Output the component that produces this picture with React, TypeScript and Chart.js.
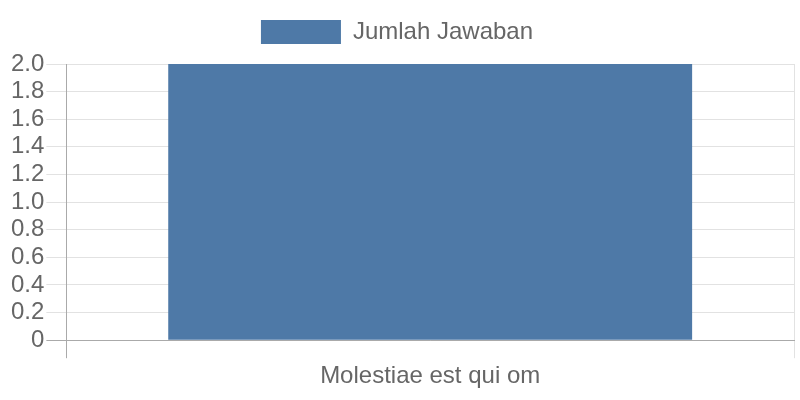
import React, { useEffect, useRef } from "react";
import { Chart, registerables } from "chart.js";

Chart.register(...registerables);

const categories: string[] = ["Molestiae est qui om"];
const seriesLabel = "Jumlah Jawaban";
const seriesValues: number[] = [2];

const legendSpacer = {
  id: "legendSpacer",
  beforeLayout(chart: any) {
    const lg = chart.legend;
    if (lg && !lg.__spaced) {
      const fit = lg.fit;
      lg.fit = function (this: any) {
        fit.call(this);
        this.height += 10;
      };
      lg.__spaced = true;
    }
  },
};

export default function App() {
  const ref = useRef<HTMLCanvasElement | null>(null);
  useEffect(() => {
    if (!ref.current) return;
    const font = { family: "'Liberation Sans', Arial, sans-serif", size: 24 };
    const chart = new Chart(ref.current, {
      type: "bar",
      data: {
        labels: categories,
        datasets: [
          {
            label: seriesLabel,
            data: seriesValues,
            backgroundColor: "#4e79a7",
            borderWidth: 0,
          },
        ],
      },
      plugins: [legendSpacer],
      options: {
        responsive: false,
        animation: false,
        layout: { padding: { top: 10, right: 6, bottom: 5, left: 0 } },
        plugins: {
          legend: {
            labels: { boxWidth: 80, boxHeight: 24, font, color: "#666" },
          },
          tooltip: { enabled: false },
        },
        scales: {
          x: {
            ticks: { font, color: "#666", padding: 4 },
            grid: {
              color: (c: any) => (c.index === 0 ? "#aaaaaa" : "#e2e2e2"),
              tickLength: 18,
              lineWidth: 1,
            },
            border: { color: "#aaaaaa" },
          },
          y: {
            min: 0,
            max: 2,
            afterFit: (scale: any) => {
              scale.width += 9;
            },
            ticks: {
              stepSize: 0.2,
              autoSkip: false,
              font,
              color: "#666",
              padding: 2,
              callback: (v: any) => (Number(v) === 0 ? "0" : Number(v).toFixed(1)),
            },
            grid: {
              color: (c: any) => (c.tick && c.tick.value === 0 ? "#aaaaaa" : "#e2e2e2"),
              tickLength: 20,
              lineWidth: 1,
            },
            border: { color: "#aaaaaa" },
          },
        },
      },
    });
    return () => chart.destroy();
  }, []);
  return (
    <div style={{ position: "absolute", left: 0, top: 0, width: 800, height: 400 }}>
      <canvas ref={ref} width={800} height={400} />
    </div>
  );
}
